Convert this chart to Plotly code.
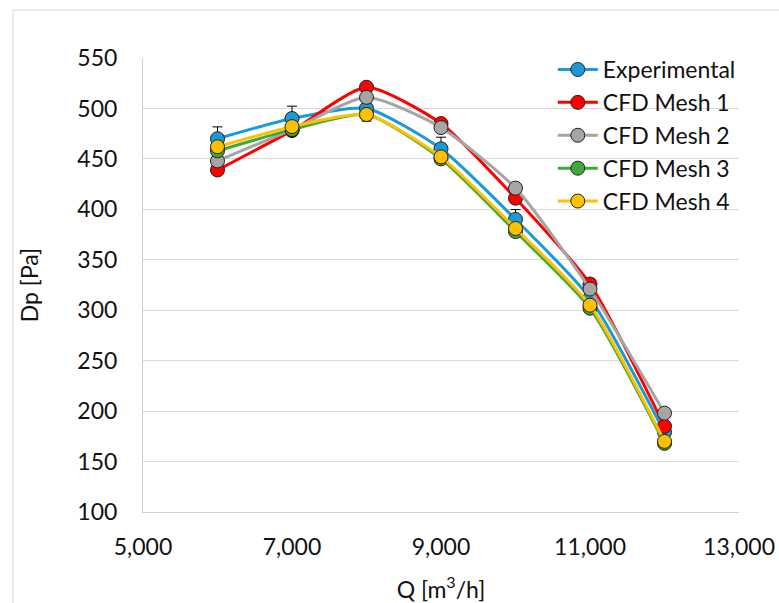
import plotly.graph_objects as go

Q = [6000, 7000, 8000, 9000, 10000, 11000, 12000]
experimental = [470, 490, 500, 460, 390, 312, 179]
mesh1 = [439, 478, 521, 485, 411, 326, 185]
mesh2 = [448, 479, 511, 481, 421, 321, 198]
mesh3 = [458, 479, 494, 450, 378, 302, 168]
mesh4 = [462, 482, 494, 452, 381, 305, 170]
exp_err_pct = 2.5
x_ticks = [5000, 7000, 9000, 11000, 13000]
y_ticks = [100, 150, 200, 250, 300, 350, 400, 450, 500, 550]

series = [
    ("Experimental", experimental, "#1a9ad6"),
    ("CFD Mesh 1", mesh1, "#ff0000"),
    ("CFD Mesh 2", mesh2, "#a5a5a5"),
    ("CFD Mesh 3", mesh3, "#43a83a"),
    ("CFD Mesh 4", mesh4, "#ffc000"),
]

fig = go.Figure()
for name, vals, col in series:
    kw = {}
    if name == "Experimental":
        kw["error_y"] = dict(type="percent", value=exp_err_pct, color="black",
                             thickness=1, width=5)
    fig.add_trace(go.Scatter(
        x=Q, y=vals, name=name, mode="lines+markers",
        line=dict(color=col, width=3, shape="spline", smoothing=0.6),
        marker=dict(size=14, color=col, line=dict(color="#222222", width=1)),
        **kw))

W, H = 779, 603
L, R, T, B = 143, 40, 58, 91
pw = W - L - R
ph = H - T - B

font = "Lato, 'Open Sans', sans-serif"
fig.update_layout(
    width=W, height=H,
    margin=dict(l=L, r=R, t=T, b=B, autoexpand=False),
    paper_bgcolor="white", plot_bgcolor="white",
    font=dict(family=font, size=23, color="#111111"),
    xaxis=dict(range=[5000, 13000], tickvals=x_ticks, tickformat=",",
               showgrid=False, zeroline=False, showline=True,
               linecolor="#d0d0d0", linewidth=1, automargin=False,
               ticks="", ticklabelstandoff=14,
               title=dict(text="Q [m<sup>3</sup>/h]", standoff=25,
                          font=dict(size=23))),
    yaxis=dict(range=[100, 550], tickvals=y_ticks, showgrid=True,
               gridcolor="#d9d9d9", gridwidth=1, zeroline=False,
               showline=True, linecolor="#d0d0d0", linewidth=1, ticks="",
               ticklabelstandoff=20, automargin=False,
               title=dict(text="Dp [Pa]", standoff=32, font=dict(size=23))),
    legend=dict(x=1.003, xanchor="right", y=1.022, yanchor="top",
                bgcolor="rgba(0,0,0,0)", font=dict(size=23),
                itemwidth=40, tracegroupgap=0),
    shapes=[dict(type="rect", xref="paper", yref="paper",
                 x0=(13 - L) / pw, x1=(800 - L) / pw,
                 y0=(512 - 620) / ph, y1=(512 - 10) / ph,
                 line=dict(color="#d9d9d9", width=1))],
)
fig.write_html("out.html", config={"displayModeBar": False},
               post_script="document.body.style.margin='0';")
